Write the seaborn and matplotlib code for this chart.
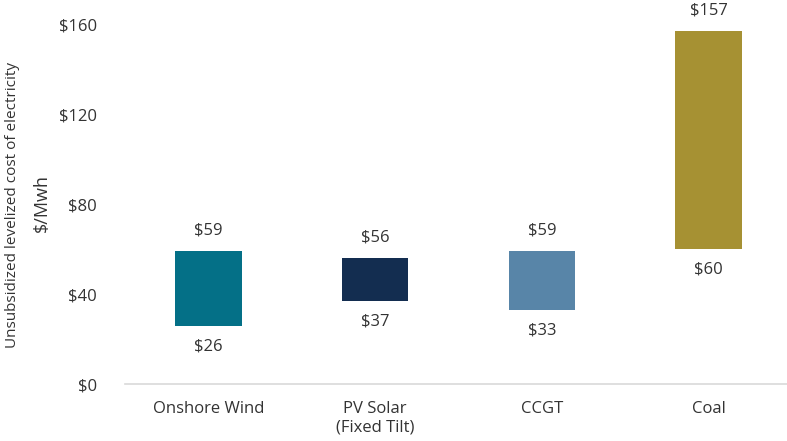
import matplotlib
matplotlib.use("Agg")
import matplotlib.pyplot as plt
import seaborn as sns
import pandas as pd

categories = ["Onshore Wind", "PV Solar\n(Fixed Tilt)", "CCGT", "Coal"]
low = [26, 37, 33, 60]
high = [59, 56, 59, 157]
colors = ["#047087", "#132D50", "#5885A8", "#A69133"]
yticks = [0, 40, 80, 120, 160]

sns.set_theme(style="white")
plt.rcParams['font.family'] = ['Open Sans', 'DejaVu Sans']
text_color = "#333333"

df = pd.DataFrame({"cat": categories, "low": low, "high": high})

fig = plt.figure(figsize=(7.87, 4.41), dpi=100)
ax = fig.add_axes([125/787, 57/441, 662/787, 382/441])

sns.barplot(data=df, x="cat", y="high", hue="cat", palette=colors, legend=False,
            width=0.4, ax=ax, saturation=1, linewidth=0)

# turn full bars into floating range bars (low -> high)
for patch, lo, hi in zip(ax.patches, low, high):
    patch.set_y(lo)
    patch.set_height(hi - lo)

for i, (lo, hi) in enumerate(zip(low, high)):
    ax.annotate(f"${hi}", (i, hi), xytext=(0, 9), textcoords="offset points",
                ha="center", va="bottom", fontsize=12, color=text_color)
    ax.annotate(f"${lo}", (i, lo), xytext=(0, -9), textcoords="offset points",
                ha="center", va="top", fontsize=12, color=text_color)

ax.set_ylim(0, 170)
ax.set_xlim(-0.5, 3.47)
ax.set_yticks(yticks)
ax.set_yticklabels([f"${v}" for v in yticks], fontsize=12, color=text_color)
ax.tick_params(axis="y", length=0, pad=20)
ax.tick_params(axis="x", length=0, pad=12, labelsize=12, labelcolor=text_color)
ax.set_xlabel("")
ax.set_ylabel("")

for s in ["top", "right", "left"]:
    ax.spines[s].set_visible(False)
ax.spines["bottom"].set_color("#D9D9D9")
ax.spines["bottom"].set_linewidth(1.2)

fig.text(13/787, 1 - 205/441, "Unsubsidized levelized cost of electricity", rotation=90,
         ha="center", va="center", fontsize=11, color=text_color)
fig.text(42/787, 1 - 203/441, "$/Mwh", rotation=90, ha="center", va="center",
         fontsize=13, color=text_color)

fig.savefig("out.png", dpi=100)
